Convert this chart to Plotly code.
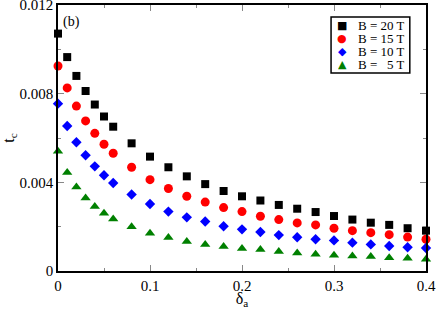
import plotly.graph_objects as go

delta_a = [0, 0.01, 0.02, 0.03, 0.04, 0.05, 0.06, 0.08, 0.10, 0.12, 0.14, 0.16, 0.18,
           0.20, 0.22, 0.24, 0.26, 0.28, 0.30, 0.32, 0.34, 0.36, 0.38, 0.40]

tc_20T = [0.01071, 0.00965, 0.00880, 0.00812, 0.00751, 0.00697, 0.00651, 0.00576, 0.00516,
          0.00468, 0.00427, 0.00392, 0.00361, 0.00337, 0.00318, 0.00298, 0.00281, 0.00266,
          0.00248, 0.00232, 0.00218, 0.00208, 0.00193, 0.00182]
tc_15T = [0.00925, 0.00826, 0.00744, 0.00677, 0.00621, 0.00572, 0.00531, 0.00468, 0.00412,
          0.00372, 0.00337, 0.00311, 0.00286, 0.00268, 0.00247, 0.00232, 0.00217, 0.00208,
          0.00193, 0.00182, 0.00173, 0.00164, 0.00153, 0.00143]
tc_10T = [0.00755, 0.00654, 0.00581, 0.00522, 0.00472, 0.00432, 0.00397, 0.00345, 0.00302,
          0.00268, 0.00242, 0.00223, 0.00202, 0.00188, 0.00176, 0.00162, 0.00152, 0.00143,
          0.00138, 0.00128, 0.00120, 0.00113, 0.00107, 0.00104]
tc_5T = [0.00540, 0.00444, 0.00379, 0.00329, 0.00291, 0.00260, 0.00235, 0.00200, 0.00170,
         0.00151, 0.00133, 0.00120, 0.00110, 0.00102, 0.00097, 0.00088, 0.00081, 0.00075,
         0.00071, 0.00068, 0.00065, 0.00060, 0.00057, 0.00053]

x_tickvals = [0, 0.1, 0.2, 0.3, 0.4]
x_ticktext = ["0", "0.1", "0.2", "0.3", "0.4"]
y_tickvals = [0, 0.004, 0.008, 0.012]
y_ticktext = ["0", "0.004", "0.008", "0.012"]

series_names = ["B = 20 T", "B = 15 T", "B = 10 T", "B = &nbsp;&nbsp;5 T"]
series_values = [tc_20T, tc_15T, tc_10T, tc_5T]
series_symbols = ["square", "circle", "diamond", "triangle-up"]
legend_glyphs = ["■", "●", "◆", "▲"]
series_colors = ["black", "red", "blue", "green"]
series_sizes = [8, 9, 8, 9]

font = "Liberation Serif"

fig = go.Figure()
for name, ys, sym, col, sz in zip(series_names, series_values, series_symbols,
                                  series_colors, series_sizes):
    fig.add_trace(go.Scatter(
        x=delta_a, y=ys, mode="markers", name=name, showlegend=False,
        marker=dict(symbol=sym, color=col, size=sz, line=dict(width=0)),
        cliponaxis=False,
    ))

axis_common = dict(
    showline=True, linecolor="black", linewidth=1.5, mirror="ticks",
    ticks="inside", tickcolor="#888", ticklen=6, tickwidth=1.2,
    showgrid=False, zeroline=False, automargin=False,
    ticklabeloverflow="allow",
    tickfont=dict(family=font, size=15, color="black"),
)

fig.update_xaxes(range=[-1e-9, 0.4 + 1e-9], tickvals=x_tickvals, ticktext=x_ticktext,
                 minor=dict(dtick=0.05, tick0=0, ticks="inside", ticklen=3, tickcolor="#888"),
                 title=dict(text="δ<sub>a</sub>", font=dict(family=font, size=16, color="black"), standoff=3),
                 **axis_common)
fig.update_yaxes(range=[-1e-9, 0.012 + 1e-9], tickvals=y_tickvals, ticktext=y_ticktext,
                 minor=dict(dtick=0.002, tick0=0, ticks="inside", ticklen=3, tickcolor="#888"),
                 title=dict(text="t<sub>c</sub>", font=dict(family=font, size=16, color="black"), standoff=2),
                 **axis_common)

fig.add_annotation(text="(b)", x=0.0035, y=0.01122, xref="x", yref="y",
                   xanchor="left", yanchor="middle", showarrow=False,
                   font=dict(family=font, size=14, color="black"))

# legend box (layout decoration, in paper coordinates of the plot area)
fig.add_shape(type="rect", xref="paper", yref="paper",
              x0=0.742, x1=0.956, y0=0.744, y1=0.955,
              line=dict(color="black", width=1.5), fillcolor="white", layer="above")
row_top = 0.923
row_step = 0.0478
for i, (g, c, n) in enumerate(zip(legend_glyphs, series_colors, series_names)):
    yy = row_top - i * row_step
    fig.add_annotation(text=g, xref="paper", yref="paper", x=0.773, y=yy,
                       xanchor="center", yanchor="middle", showarrow=False,
                       height=12, borderpad=0, valign="middle",
                       font=dict(family="DejaVu Sans", size=11, color=c))
    fig.add_annotation(text=n, xref="paper", yref="paper", x=0.813, y=yy,
                       xanchor="left", yanchor="middle", showarrow=False,
                       height=12, borderpad=0, valign="middle",
                       font=dict(family=font, size=13, color="black"))

fig.update_layout(
    width=436, height=309,
    margin=dict(l=58, r=10, t=5, b=38, autoexpand=False),
    plot_bgcolor="white", paper_bgcolor="white",
    showlegend=False,
    font=dict(family=font),
)

fig.write_html("out.html", config={"displayModeBar": False},
               post_script="document.body.style.margin='0';document.body.style.overflow='hidden';")
